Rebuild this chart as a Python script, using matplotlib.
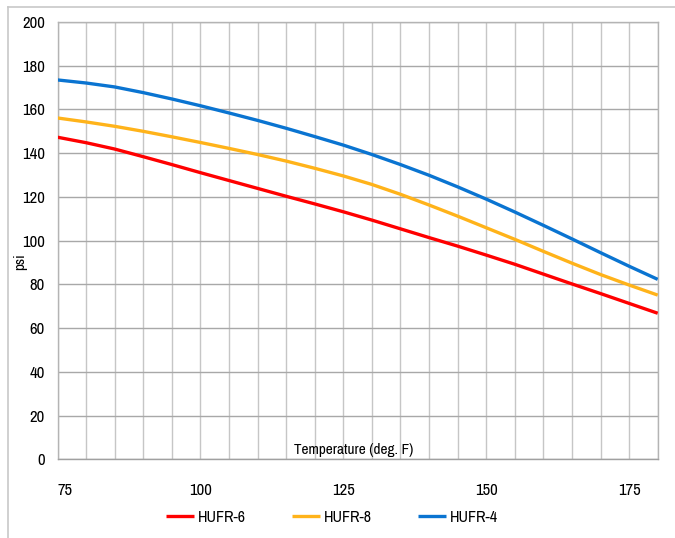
import matplotlib
matplotlib.use("Agg")
import matplotlib.pyplot as plt
from matplotlib.lines import Line2D
from matplotlib.ticker import MultipleLocator

plt.rcParams['font.family'] = ['Archivo Narrow', 'Liberation Sans', 'DejaVu Sans']

temps = [75, 80, 85, 90, 95, 100, 105, 110, 115, 120, 125, 130, 135, 140, 145,
         150, 155, 160, 165, 170, 175, 180]
hufr6 = [147.3, 144.8, 141.9, 138.4, 134.8, 131.1, 127.5, 123.9, 120.3, 116.8, 113.2,
         109.4, 105.4, 101.4, 97.5, 93.4, 89.2, 84.7, 80.2, 75.8, 71.3, 66.8]
hufr8 = [156.1, 154.3, 152.3, 150.0, 147.5, 144.9, 142.2, 139.4, 136.4, 133.1, 129.6,
         125.7, 121.2, 116.3, 111.2, 105.9, 100.6, 95.1, 89.7, 84.5, 79.7, 75.1]
hufr4 = [173.5, 172.1, 170.3, 167.7, 164.8, 161.7, 158.4, 155.0, 151.4, 147.6, 143.7,
         139.4, 134.8, 129.9, 124.6, 119.0, 113.1, 107.0, 100.8, 94.5, 88.3, 82.3]
series_names = ['HUFR-6', 'HUFR-8', 'HUFR-4']
colors = ['#ff0000', '#ffb31a', '#0a74d1']
x_ticks = [75, 100, 125, 150, 175]
y_ticks = [0, 20, 40, 60, 80, 100, 120, 140, 160, 180, 200]

W, H = 675, 538
fig = plt.figure(figsize=(W / 100, H / 100), dpi=100)
ax = fig.add_axes([57.5 / W, 1 - 459.3 / H, 600.2 / W, 437.3 / H])

# outer frame
fig.add_artist(Line2D([7.5 / W, 1.0], [1 - 7 / H, 1 - 7 / H], color='#c8c8c8', lw=1.2,
                      transform=fig.transFigure))
fig.add_artist(Line2D([7.5 / W, 7.5 / W], [0, 1 - 7 / H], color='#c8c8c8', lw=1.2,
                      transform=fig.transFigure))

for vals, name, c in zip([hufr6, hufr8, hufr4], series_names, colors):
    ax.plot(temps, vals, color=c, lw=2.4, label=name, solid_capstyle='butt', zorder=3)

ax.set_xlim(75, 180)
ax.set_ylim(0, 200)
ax.set_xticks(x_ticks)
ax.xaxis.set_minor_locator(MultipleLocator(5))
ax.set_yticks(y_ticks)
ax.grid(which='both', axis='x', color='#c6c6c6', lw=1.0)
ax.grid(which='major', axis='y', color='#a8a8a8', lw=1.0)
ax.set_axisbelow(True)
ax.tick_params(axis='both', which='both', length=0)
ax.tick_params(axis='y', pad=9, labelsize=12)
ax.tick_params(axis='x', pad=17, labelsize=12)
for lab in ax.get_xticklabels():
    if lab.get_text() == '75':
        lab.set_ha('left')
for side in ['top', 'right', 'left']:
    ax.spines[side].set_color('#b4b4b4')
ax.spines['bottom'].set_color('#a0a0a0')
for s in ax.spines.values():
    s.set_linewidth(1.0)

ax.text(0.494, 0.006, 'Temperature (deg. F)', transform=ax.transAxes, ha='center',
        va='bottom', fontsize=11)
fig.text(20 / W, 1 - 262 / H, 'psi', rotation=90, ha='center', va='center', fontsize=11)

fig.legend(loc='center', bbox_to_anchor=(332 / W, 1 - 517 / H), ncol=3, frameon=False,
           fontsize=11.5, handlelength=1.75, handletextpad=0.25, columnspacing=2.9)

fig.savefig('out.png', dpi=100)
